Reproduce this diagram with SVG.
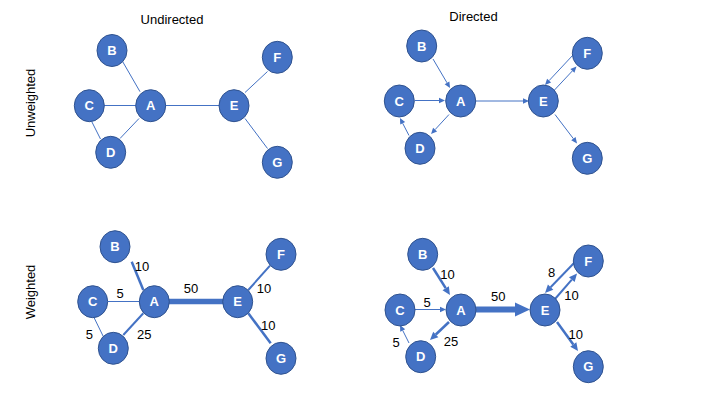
<svg xmlns="http://www.w3.org/2000/svg" width="720" height="405" viewBox="0 0 720 405">
<style>
.title{font-family:"Liberation Sans","Open Sans",sans-serif;font-size:13px;fill:#000}
.wl{font-family:"Liberation Sans","Open Sans",sans-serif;font-size:13px;fill:#000;text-anchor:middle}
.node ellipse{fill:#4472C4;stroke:#2F528F;stroke-width:1}
.node text{font-family:"Liberation Sans","Open Sans",sans-serif;font-size:13px;font-weight:bold;fill:#fff;text-anchor:middle}
.e{stroke:#4472C4;fill:none;stroke-width:1}
.w2{stroke-width:2}
.w25{stroke-width:2.5}
.w55{stroke-width:5.5}
.w6{stroke-width:6}
.as{marker-end:url(#as)}
.am{marker-end:url(#am)}
.al{marker-end:url(#al)}
</style>
<defs>
<marker id="as" markerUnits="userSpaceOnUse" markerWidth="12" markerHeight="12" refX="0" refY="0" orient="auto" overflow="visible"><path d="M0,-2.75 L6,0 L0,2.75z" fill="#4472C4"/></marker>
<marker id="am" markerUnits="userSpaceOnUse" markerWidth="16" markerHeight="16" refX="0" refY="0" orient="auto" overflow="visible"><path d="M0,-3.75 L8,0 L0,3.75z" fill="#4472C4"/></marker>
<marker id="al" markerUnits="userSpaceOnUse" markerWidth="30" markerHeight="30" refX="0" refY="0" orient="auto" overflow="visible"><path d="M0,-7 L15,0 L0,7z" fill="#4472C4"/></marker>
</defs>
<rect width="720" height="405" fill="#fff"/>
<g id="titles">
<text class="title" x="172" y="24" text-anchor="middle">Undirected</text>
<text class="title" x="473.5" y="21" text-anchor="middle">Directed</text>
<text class="title" transform="translate(35,103) rotate(-90)" text-anchor="middle">Unweighted</text>
<text class="title" transform="translate(35,292) rotate(-90)" text-anchor="middle">Weighted</text>
</g>
<g id="connectors">
<!-- unweighted undirected -->
<line class="e" x1="122.7" y1="61.7" x2="140" y2="91.7"/>
<line class="e" x1="104" y1="105.5" x2="137" y2="105.5"/>
<line class="e" x1="91.7" y1="121.5" x2="100.5" y2="139"/>
<line class="e" x1="139" y1="118.5" x2="120" y2="138.5"/>
<line class="e" x1="165" y1="105.5" x2="220" y2="105.5"/>
<line class="e" x1="245" y1="92.5" x2="267.5" y2="71.5"/>
<line class="e" x1="245" y1="118.5" x2="267.5" y2="148.5"/>
<!-- unweighted directed -->
<line class="e as" x1="433" y1="59" x2="447" y2="82.8"/>
<line class="e as" x1="415" y1="100.5" x2="439" y2="100.5"/>
<line class="e as" x1="449" y1="114.5" x2="435.1" y2="129.6"/>
<line class="e as" x1="409" y1="135.5" x2="402.7" y2="123.3"/>
<line class="e as" x1="475.5" y1="101" x2="523" y2="101"/>
<line class="e as" x1="573" y1="55" x2="549.1" y2="80.6"/>
<line class="e as" x1="554.5" y1="90" x2="572.4" y2="70.9"/>
<line class="e as" x1="555" y1="114.5" x2="573.4" y2="138.7"/>
<!-- weighted undirected -->
<line class="e w25" x1="131.7" y1="261.7" x2="143.3" y2="290"/>
<line class="e" x1="108" y1="301.5" x2="140" y2="301.5"/>
<line class="e" x1="94" y1="317.5" x2="103.3" y2="336.5"/>
<line class="e w2" x1="143.3" y1="313.3" x2="123.3" y2="335"/>
<line class="e w55" x1="169" y1="301.5" x2="224" y2="301.5"/>
<line class="e w2" x1="248.3" y1="290" x2="270" y2="265.7"/>
<line class="e w25" x1="248.3" y1="313.3" x2="270.7" y2="343.3"/>
<!-- weighted directed -->
<line class="e w25 am" x1="433" y1="268" x2="445.7" y2="288.2"/>
<line class="e as" x1="415" y1="309.5" x2="440" y2="309.5"/>
<line class="e w25 am" x1="449" y1="322" x2="435.8" y2="334.5"/>
<line class="e as" x1="409" y1="343" x2="402.7" y2="330.4"/>
<line class="e w6 al" x1="476" y1="309.5" x2="515" y2="309.5"/>
<line class="e w2 am" x1="575" y1="262" x2="550.6" y2="287.2"/>
<line class="e w2 am" x1="555" y1="299" x2="571.8" y2="279.6"/>
<line class="e w25 am" x1="557" y1="322" x2="573.3" y2="344.5"/>
</g>
<g id="weights">
<text class="wl" x="142" y="271">10</text>
<text class="wl" x="120" y="298">5</text>
<text class="wl" x="191" y="293">50</text>
<text class="wl" x="89.3" y="339">5</text>
<text class="wl" x="144.3" y="338.5">25</text>
<text class="wl" x="264" y="293">10</text>
<text class="wl" x="268.3" y="329.5">10</text>
<text class="wl" x="447.5" y="278.7">10</text>
<text class="wl" x="427" y="306.5">5</text>
<text class="wl" x="498.3" y="300.5">50</text>
<text class="wl" x="396" y="347">5</text>
<text class="wl" x="451" y="346.3">25</text>
<text class="wl" x="551.7" y="277">8</text>
<text class="wl" x="571.5" y="300">10</text>
<text class="wl" x="575.7" y="338.5">10</text>
</g>
<!-- unweighted undirected nodes -->
<g id="ul-B" class="node"><ellipse cx="112" cy="50.5" rx="15" ry="16"/><text x="112" y="55">B</text></g>
<g id="ul-C" class="node"><ellipse cx="89.3" cy="105.7" rx="15" ry="16"/><text x="89.3" y="110.2">C</text></g>
<g id="ul-A" class="node"><ellipse cx="150.7" cy="105.7" rx="15" ry="16"/><text x="150.7" y="110.2">A</text></g>
<g id="ul-D" class="node"><ellipse cx="110.7" cy="152.3" rx="15" ry="16"/><text x="110.7" y="156.8">D</text></g>
<g id="ul-E" class="node"><ellipse cx="234" cy="105.7" rx="15" ry="16"/><text x="234" y="110.2">E</text></g>
<g id="ul-F" class="node"><ellipse cx="277.3" cy="57.3" rx="15" ry="16"/><text x="277.3" y="61.8">F</text></g>
<g id="ul-G" class="node"><ellipse cx="277.3" cy="162.3" rx="15" ry="16"/><text x="277.3" y="166.8">G</text></g>
<!-- unweighted directed nodes -->
<g id="ur-B" class="node"><ellipse cx="421.7" cy="46" rx="15" ry="16"/><text x="421.7" y="50.5">B</text></g>
<g id="ur-C" class="node"><ellipse cx="399.3" cy="101" rx="15" ry="16"/><text x="399.3" y="105.5">C</text></g>
<g id="ur-A" class="node"><ellipse cx="460.7" cy="101" rx="15" ry="16"/><text x="460.7" y="105.5">A</text></g>
<g id="ur-D" class="node"><ellipse cx="420" cy="148.3" rx="15" ry="16"/><text x="420" y="152.8">D</text></g>
<g id="ur-E" class="node"><ellipse cx="543.3" cy="101" rx="15" ry="16"/><text x="543.3" y="105.5">E</text></g>
<g id="ur-F" class="node"><ellipse cx="587.3" cy="53.3" rx="15" ry="16"/><text x="587.3" y="57.8">F</text></g>
<g id="ur-G" class="node"><ellipse cx="587.3" cy="158.3" rx="15" ry="16"/><text x="587.3" y="162.8">G</text></g>
<!-- weighted undirected nodes -->
<g id="wl-B" class="node"><ellipse cx="115" cy="246.7" rx="15" ry="16"/><text x="115" y="251.2">B</text></g>
<g id="wl-C" class="node"><ellipse cx="92.7" cy="301.7" rx="15" ry="16"/><text x="92.7" y="306.2">C</text></g>
<g id="wl-A" class="node"><ellipse cx="154.3" cy="301.7" rx="15" ry="16"/><text x="154.3" y="306.2">A</text></g>
<g id="wl-D" class="node"><ellipse cx="113.3" cy="348.3" rx="15" ry="16"/><text x="113.3" y="352.8">D</text></g>
<g id="wl-E" class="node"><ellipse cx="237.7" cy="301.7" rx="15" ry="16"/><text x="237.7" y="306.2">E</text></g>
<g id="wl-F" class="node"><ellipse cx="281" cy="254.3" rx="15" ry="16"/><text x="281" y="258.8">F</text></g>
<g id="wl-G" class="node"><ellipse cx="281" cy="358.3" rx="15" ry="16"/><text x="281" y="362.8">G</text></g>
<!-- weighted directed nodes -->
<g id="wr-B" class="node"><ellipse cx="422.7" cy="254.3" rx="15" ry="16"/><text x="422.7" y="258.8">B</text></g>
<g id="wr-C" class="node"><ellipse cx="400" cy="310" rx="15" ry="16"/><text x="400" y="314.5">C</text></g>
<g id="wr-A" class="node"><ellipse cx="461" cy="310" rx="15" ry="16"/><text x="461" y="314.5">A</text></g>
<g id="wr-D" class="node"><ellipse cx="420.7" cy="356.7" rx="15" ry="16"/><text x="420.7" y="361.2">D</text></g>
<g id="wr-E" class="node"><ellipse cx="545" cy="310" rx="15" ry="16"/><text x="545" y="314.5">E</text></g>
<g id="wr-F" class="node"><ellipse cx="588.3" cy="261" rx="15" ry="16"/><text x="588.3" y="265.5">F</text></g>
<g id="wr-G" class="node"><ellipse cx="588.3" cy="366.7" rx="15" ry="16"/><text x="588.3" y="371.2">G</text></g>
</svg>
